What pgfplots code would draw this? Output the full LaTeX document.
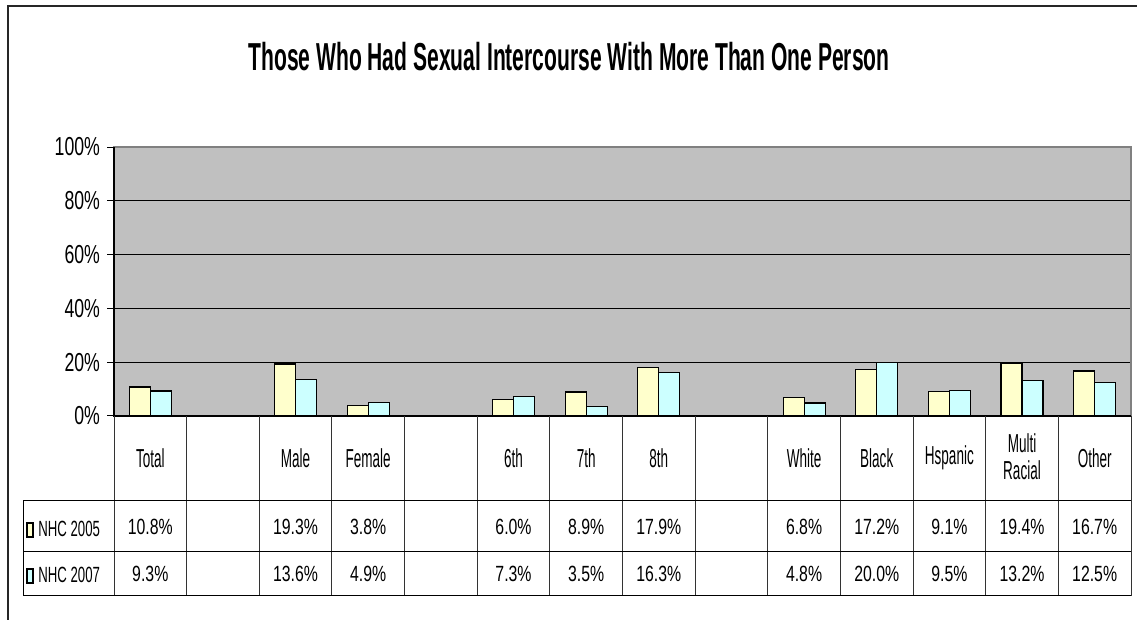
\documentclass[border=0pt]{standalone}
\usepackage{pgfplots}
\pgfplotsset{compat=1.18}
\usepackage{pgfplotstable}
\usepackage{fontspec}
\setmainfont{Liberation Sans}
\newfontfamily\titlefont{Liberation Sans}[FakeStretch=0.54]
\newfontfamily\catfont{Liberation Sans}[FakeStretch=0.52]
\newfontfamily\tickfont{Liberation Sans}[FakeStretch=0.68]
\newfontfamily\valfont{Liberation Sans}[FakeStretch=0.72]
\newfontfamily\legfont{Liberation Sans}[FakeStretch=0.6]
\definecolor{yel}{HTML}{FFFFCC}
\definecolor{cya}{HTML}{CCFFFF}
\definecolor{plotgray}{HTML}{C0C0C0}

% x = column position (blank columns left out)
\pgfplotstableread{
x   nhc05  nhc07
0   10.8   9.3
2   19.3   13.6
3   3.8    4.9
5   6.0    7.3
6   8.9    3.5
7   17.9   16.3
9   6.8    4.8
10  17.2   20.0
11  9.1    9.5
12  19.4   13.2
13  16.7   12.5
}\datatable

\begin{document}
\begin{tikzpicture}
\useasboundingbox (0,0) rectangle (568.5pt,-310pt);

\begin{axis}[
  at={(57pt,-208pt)}, anchor=south west,
  scale only axis,
  width=508.5pt, height=134.5pt,
  xmin=-0.5, xmax=13.5,
  ymin=0, ymax=100,
  xtick=\empty,
  ytick={0,20,40,60,80,100},
  yticklabels={0\%,20\%,40\%,60\%,80\%,100\%},
  yticklabel style={font=\tickfont\fontsize{13}{15}\selectfont},
  ytick pos=left,
  tick align=outside,
  major tick length=3.5pt,
  tick style={black, line width=0.5pt},
  ymajorgrids,
  grid style={black, line width=0.5pt},
  axis background/.style={fill=plotgray},
  axis line style={draw=gray, line width=0.6pt},
  clip=false,
]
  \addplot[ybar, bar width=10.5pt, bar shift=-5.25pt, fill=yel, draw=black, line width=0.6pt]
    table[x=x, y=nhc05] {\datatable};
  \addplot[ybar, bar width=10.5pt, bar shift=5.25pt, fill=cya, draw=black, line width=0.6pt]
    table[x=x, y=nhc07] {\datatable};
  \draw[black, line width=0.6pt] (rel axis cs:0,1) -- (rel axis cs:0,0) -- (rel axis cs:1,0);
\end{axis}

\begin{scope}[x=0.5pt, y=-0.5pt]
  % outer frame (only left and top edges visible)
  \draw[line width=1pt, black!85] (7.5,625) -- (7.5,6.5) -- (1140,6.5);
  % title
  \node[font=\titlefont\bfseries\fontsize{19.5}{21}\selectfont] at (569,57)
    {Those Who Had Sexual Intercourse With More Than One Person};
  % data table grid
  \foreach \k in {0,...,14} {
    \draw[line width=0.5pt, black!80] ({114+72.643*\k},416) -- ({114+72.643*\k},596);
  }
  \draw[line width=0.5pt] (23,501) -- (1131,501);
  \draw[line width=0.5pt] (23,552) -- (1131,552);
  \draw[line width=0.5pt] (23,596) -- (1131,596);
  \draw[line width=0.5pt] (23,501) -- (23,596);
  % category labels
  \foreach \i/\t in {0/Total,2/Male,3/Female,5/6th,6/7th,7/8th,9/White,10/Black,11/Hspanic,13/Other} {
    \node[font=\catfont\fontsize{13}{15}\selectfont] at ({150.3+72.643*\i},458) {\t};
  }
  \node[font=\catfont\fontsize{13}{13.5}\selectfont, align=center] at ({150.3+72.643*12},457) {Multi\\Racial};
  % legend keys
  \draw[fill=yel, line width=0.6pt] (27,523) rectangle (33,537);
  \draw[fill=cya, line width=0.6pt] (27,569) rectangle (33,583);
  \node[font=\legfont\fontsize{11}{12}\selectfont, anchor=west, inner sep=0pt] at (38,529) {NHC 2005};
  \node[font=\legfont\fontsize{11}{12}\selectfont, anchor=west, inner sep=0pt] at (38,575) {NHC 2007};
  % values
  \foreach \i/\v in {0/10.8,2/19.3,3/3.8,5/6.0,6/8.9,7/17.9,9/6.8,10/17.2,11/9.1,12/19.4,13/16.7} {
    \node[font=\valfont\fontsize{11}{12}\selectfont] at ({150.3+72.643*\i},527) {\v\%};
  }
  \foreach \i/\v in {0/9.3,2/13.6,3/4.9,5/7.3,6/3.5,7/16.3,9/4.8,10/20.0,11/9.5,12/13.2,13/12.5} {
    \node[font=\valfont\fontsize{11}{12}\selectfont] at ({150.3+72.643*\i},574) {\v\%};
  }
\end{scope}
\end{tikzpicture}
\end{document}
